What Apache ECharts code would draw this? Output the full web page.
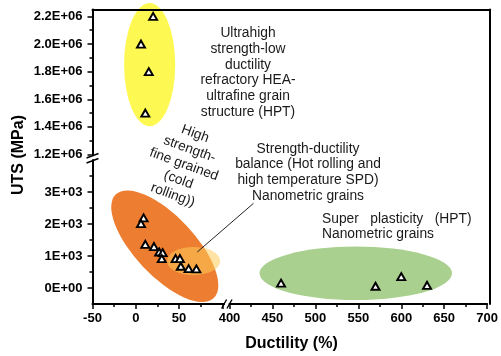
<!DOCTYPE html>
<html>
<head>
<meta charset="utf-8">
<script src="https://cdn.jsdelivr.net/npm/echarts@6/dist/echarts.min.js"></script>
<style>
  html, body { margin: 0; padding: 0; background: #ffffff; }
  #chart { width: 501px; height: 356px; }
</style>
</head>
<body>
<div id="chart"></div>
<script>
// Ductility vs ultimate tensile strength of HEAs, grouped by processing route.
// Both axes are broken: ductility -50..100 | 400..700, UTS -500..4000 | 1.2e6..2.25e6.

// Ultrahigh strength (refractory HEA, HPT)
const ultraHighPoints = [[20, 2.2e6], [6, 2.0e6], [15, 1.8e6], [11, 1.5e6]];
// Cold rolled / hot rolled fine-grained alloys
const fineGrainedPoints = [
  [9, 2190], [6, 2010], [11, 1365], [21, 1295], [27, 1125], [31, 1105],
  [30, 920], [46, 920], [51, 920], [52, 680], [61, 605], [70, 595]
];
// Superplastic HPT alloys
const superplasticPoints = [[460, 150], [570, 55], [600, 355], [630, 85]];

// Group outlines: major axis endpoints [x1, y1, x2, y2] plus minor/major axis ratio
const ultraHighRegion = [[16, 2.297e6, 16, 1.405e6, 0.415]];
const coldRollingRegion = [[-23, 2928, 90, -316, 0.42]];
const balanceRegion = [[36, 841, 97.5, 841, 0.53]];
const superplasticRegion = [[435, 459, 659, 459, 0.278]];

// Leader from the balance group to its caption (data units, left and right panels)
const leaderFrom = [71, 1125];
const leaderTo = [428, 2647];

// Axis ranges and ticks
const xLeftRange = [-50, 102];
const xRightRange = [400, 700];
const yUpperRange = [1.2e6, 2.25e6];
const yLowerRange = [-500, 4000];
const xTicksLeft = [-50, 0, 50, 100];
const xLabelsLeft = [-50, 0, 50];
const xMinorLeft = [-25, 25, 75];
const xTicksRight = [400, 450, 500, 550, 600, 650, 700];
const xMinorRight = [425, 475, 525, 575, 625, 675];
const yTicksUpper = [1.2e6, 1.4e6, 1.6e6, 1.8e6, 2.0e6, 2.2e6];
const yMinorUpper = [1.3e6, 1.5e6, 1.7e6, 1.9e6, 2.1e6];
const yTicksLower = [0, 1000, 2000, 3000];
const yMinorLower = [500, 1500, 2500, 3500];

const FONT = "'Liberation Sans', Arial, Helvetica, sans-serif";
const INK = '#000000';
const NOTE = '#1a1a1a';

function sci(v, digits) {
  if (v === 0) return (0).toFixed(digits) + 'E+00';
  const e = Math.floor(Math.log10(Math.abs(v)) + 1e-9);
  const m = v / Math.pow(10, e);
  return m.toFixed(digits) + 'E' + (e < 0 ? '-' : '+') + String(Math.abs(e)).padStart(2, '0');
}

const tickLabel = { fontFamily: FONT, fontSize: 13, fontWeight: 'bold', color: INK };

function majorAxis(extra) {
  return Object.assign({
    type: 'value',
    axisLine: { show: true, onZero: false, lineStyle: { color: INK, width: 2 } },
    axisTick: { show: true, length: 5, lineStyle: { color: INK, width: 1.5 } },
    splitLine: { show: false }
  }, extra);
}
function minorAxis(extra) {
  return Object.assign({
    type: 'value',
    axisLine: { show: false, onZero: false },
    axisTick: { show: true, length: 3, lineStyle: { color: INK, width: 1.5 } },
    axisLabel: { show: false },
    splitLine: { show: false }
  }, extra);
}

// Ellipse drawn from its major axis endpoints through the axes' own scales
function ellipseItem(params, api) {
  const p1 = api.coord([api.value(0), api.value(1)]);
  const p2 = api.coord([api.value(2), api.value(3)]);
  const ratio = api.value(4);
  const a = Math.hypot(p2[0] - p1[0], p2[1] - p1[1]) / 2;
  const ang = Math.atan2(p2[1] - p1[1], p2[0] - p1[0]);
  return {
    type: 'circle',
    shape: { cx: 0, cy: 0, r: 1 },
    x: (p1[0] + p2[0]) / 2,
    y: (p1[1] + p2[1]) / 2,
    scaleX: a,
    scaleY: a * ratio,
    rotation: -ang,
    style: { fill: api.visual('color') }
  };
}
function ellipseSeries(data, color, xi, yi, z) {
  return {
    type: 'custom', data: data, xAxisIndex: xi, yAxisIndex: yi,
    renderItem: ellipseItem, itemStyle: { color: color }, clip: false,
    silent: true, z: z
  };
}
function pointSeries(data, xi, yi) {
  return {
    type: 'scatter', data: data, xAxisIndex: xi, yAxisIndex: yi,
    symbol: 'triangle', symbolSize: [8, 7],
    itemStyle: { color: '#ffffff', borderColor: INK, borderWidth: 1.9, opacity: 1 },
    z: 5
  };
}

const chart = echarts.init(document.getElementById('chart'), null, { renderer: 'canvas' });

chart.setOption({
  animation: false,
  textStyle: { fontFamily: FONT },
  grid: [
    { left: 92.5, top: 9.5, width: 131.6, height: 145 },    // upper left
    { left: 92.5, top: 160, width: 131.6, height: 144 },    // lower left
    { left: 229.5, top: 160, width: 260, height: 144 },     // lower right
    { left: 92.5, top: 9.5, width: 397, height: 294.5 }     // frame
  ],
  xAxis: [
    { type: 'value', gridIndex: 0, min: xLeftRange[0], max: xLeftRange[1], show: false },
    majorAxis({
      gridIndex: 1, position: 'bottom', min: xLeftRange[0], max: xLeftRange[1],
      axisTick: { show: true, length: 5, customValues: xTicksLeft, lineStyle: { color: INK, width: 1.5 } },
      axisLabel: Object.assign({ customValues: xLabelsLeft, margin: 8 }, tickLabel)
    }),
    minorAxis({
      gridIndex: 1, position: 'bottom', min: xLeftRange[0], max: xLeftRange[1],
      axisTick: { show: true, length: 3, customValues: xMinorLeft, lineStyle: { color: INK, width: 1.5 } }
    }),
    majorAxis({
      gridIndex: 2, position: 'bottom', min: xRightRange[0], max: xRightRange[1],
      axisTick: { show: true, length: 5, customValues: xTicksRight, lineStyle: { color: INK, width: 1.5 } },
      axisLabel: Object.assign({ customValues: xTicksRight, margin: 8 }, tickLabel)
    }),
    minorAxis({
      gridIndex: 2, position: 'bottom', min: xRightRange[0], max: xRightRange[1],
      axisTick: { show: true, length: 3, customValues: xMinorRight, lineStyle: { color: INK, width: 1.5 } }
    }),
    {
      type: 'value', gridIndex: 3, position: 'top', min: 0, max: 1, z: 10,
      axisLine: { show: true, onZero: false, lineStyle: { color: INK, width: 2 } },
      axisTick: { show: false }, axisLabel: { show: false }, splitLine: { show: false }
    }
  ],
  yAxis: [
    majorAxis({
      gridIndex: 0, position: 'left', min: yUpperRange[0], max: yUpperRange[1],
      axisTick: { show: true, length: 5, customValues: yTicksUpper, lineStyle: { color: INK, width: 1.5 } },
      axisLabel: Object.assign({ customValues: yTicksUpper, margin: 10, formatter: v => sci(v, 1) }, tickLabel)
    }),
    minorAxis({
      gridIndex: 0, position: 'left', min: yUpperRange[0], max: yUpperRange[1],
      axisTick: { show: true, length: 3, customValues: yMinorUpper, lineStyle: { color: INK, width: 1.5 } }
    }),
    majorAxis({
      gridIndex: 1, position: 'left', min: yLowerRange[0], max: yLowerRange[1],
      axisTick: { show: true, length: 5, customValues: yTicksLower, lineStyle: { color: INK, width: 1.5 } },
      axisLabel: Object.assign({ customValues: yTicksLower, margin: 10, formatter: v => sci(v, 0) }, tickLabel)
    }),
    minorAxis({
      gridIndex: 1, position: 'left', min: yLowerRange[0], max: yLowerRange[1],
      axisTick: { show: true, length: 3, customValues: yMinorLower, lineStyle: { color: INK, width: 1.5 } }
    }),
    { type: 'value', gridIndex: 2, min: yLowerRange[0], max: yLowerRange[1], show: false },
    {
      type: 'value', gridIndex: 3, position: 'right', min: 0, max: 1, z: 10,
      axisLine: { show: true, onZero: false, lineStyle: { color: INK, width: 2 } },
      axisTick: { show: false }, axisLabel: { show: false }, splitLine: { show: false }
    }
  ],
  series: [
    ellipseSeries(ultraHighRegion, '#fdf952', 0, 0, 1),
    ellipseSeries(coldRollingRegion, '#ec7d31', 1, 2, 1),
    ellipseSeries(balanceRegion, 'rgba(255, 204, 90, 0.55)', 1, 2, 2),
    ellipseSeries(superplasticRegion, '#a9d08e', 3, 4, 1),
    pointSeries(ultraHighPoints, 0, 0),
    pointSeries(fineGrainedPoints, 1, 2),
    pointSeries(superplasticPoints, 3, 4)
  ]
});

// Break marks, leader line and captions
const px = (axes, v) => chart.convertToPixel(axes, v);
const yBreakX = px({ xAxisIndex: 1 }, xLeftRange[0]);
const yBreakTop = px({ yAxisIndex: 0 }, yUpperRange[0]);
const yBreakBottom = px({ yAxisIndex: 2 }, yLowerRange[1]);
const xBreakY = px({ yAxisIndex: 2 }, yLowerRange[0]);
const xBreakLeft = px({ xAxisIndex: 1 }, xLeftRange[1]);
const xBreakRight = px({ xAxisIndex: 3 }, xRightRange[0]);
const lf = px({ xAxisIndex: 1, yAxisIndex: 2 }, leaderFrom);
const lt = px({ xAxisIndex: 3, yAxisIndex: 4 }, leaderTo);

const slash = (x1, y1, x2, y2) => ({
  type: 'line', z: 20, silent: true,
  shape: { x1: x1, y1: y1, x2: x2, y2: y2 },
  style: { stroke: INK, lineWidth: 1.4 }
});
const note = (text, x, y, extra) => Object.assign({
  type: 'text', z: 20, silent: true, x: x, y: y,
  style: Object.assign({
    text: text, fill: NOTE, font: '13.8px ' + FONT,
    align: 'center', verticalAlign: 'middle', lineHeight: 15.7
  }, (extra && extra.style) || {})
}, extra && extra.rotation !== undefined ? { rotation: extra.rotation } : {});

chart.setOption({
  graphic: [
    // y-axis break
    { type: 'rect', z: 19, silent: true,
      shape: { x: yBreakX - 2, y: yBreakTop + 1, width: 4, height: yBreakBottom - yBreakTop - 2 },
      style: { fill: '#ffffff' } },
    slash(yBreakX - 6, yBreakTop + 3.5, yBreakX + 6, yBreakTop - 1),
    slash(yBreakX - 6, yBreakBottom + 3, yBreakX + 6, yBreakBottom - 1.5),
    // x-axis break
    slash(xBreakLeft - 2.5, xBreakY + 4.5, xBreakLeft + 2.5, xBreakY - 4.5),
    slash(xBreakRight - 2.5, xBreakY + 4.5, xBreakRight + 2.5, xBreakY - 4.5),
    // leader
    { type: 'line', z: 18, silent: true,
      shape: { x1: lf[0], y1: lf[1], x2: lt[0], y2: lt[1] },
      style: { stroke: '#222222', lineWidth: 1 } },
    note('Ultrahigh\nstrength-low\nductility\nrefractory HEA-\nultrafine grain\nstructure (HPT)', 248, 72.6),
    note('High\nstrength-\nfine grained\n(cold\nrolling))', 184, 164.5,
      { rotation: -20 * Math.PI / 180, style: { lineHeight: 16.3 } }),
    note('Strength-ductility\nbalance (Hot rolling and\nhigh temperature SPD)\nNanometric grains', 308, 172.5),
    note('Super   plasticity   (HPT)\nNanometric grains', 322, 226.7, { style: { align: 'left' } }),
    // axis titles
    { type: 'text', z: 20, silent: true, x: 291.5, y: 344,
      style: { text: 'Ductility (%)', fill: INK, font: 'bold 16px ' + FONT, align: 'center', verticalAlign: 'middle' } },
    { type: 'text', z: 20, silent: true, x: 19, y: 155, rotation: Math.PI / 2,
      style: { text: 'UTS (MPa)', fill: INK, font: 'bold 16px ' + FONT, align: 'center', verticalAlign: 'middle' } }
  ]
});
</script>
</body>
</html>
